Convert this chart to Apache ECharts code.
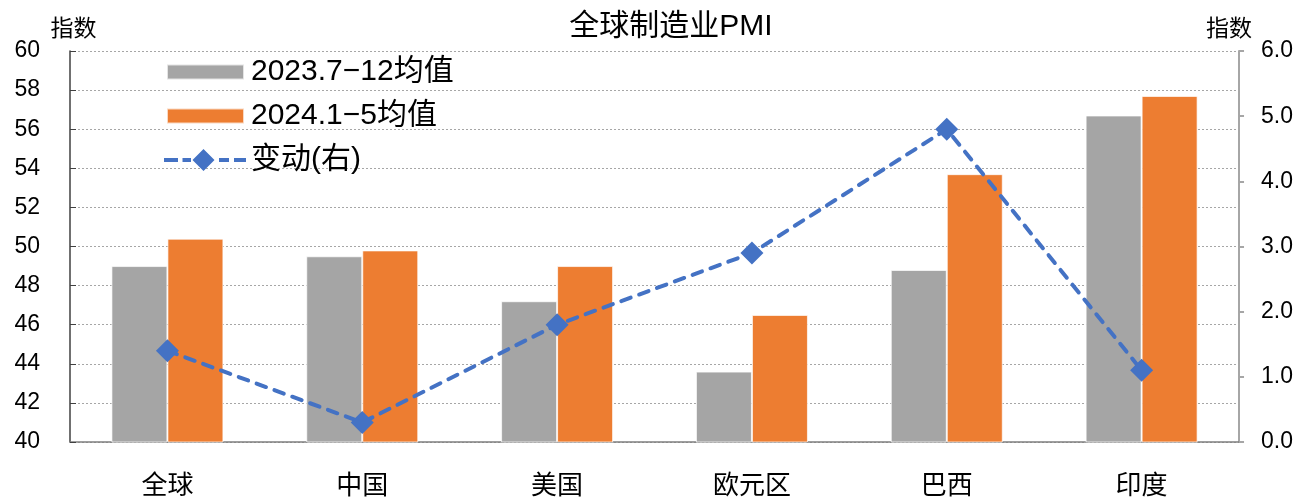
<!DOCTYPE html>
<html>
<head>
<meta charset="utf-8">
<script src="https://cdn.jsdelivr.net/npm/echarts@6/dist/echarts.min.js"></script>
<style>
  html, body { margin: 0; padding: 0; background: #fff; }
  #chart { width: 1296px; height: 500px; }
</style>
</head>
<body>
<div id="chart"></div>
<script>
// 全球制造业PMI：两期均值（左轴）与变动（右轴）
const categories = ['全球', '中国', '美国', '欧元区', '巴西', '印度'];
const avg2023H2 = [49.0, 49.5, 47.2, 43.6, 48.8, 56.7];
const avg2024 = [50.4, 49.8, 49.0, 46.5, 53.7, 57.7];
const change = [1.4, 0.3, 1.8, 2.9, 4.8, 1.1];
const leftTicks = { min: 40, max: 60, interval: 2 };
const rightTicks = { min: 0, max: 6, interval: 1 };
const seriesNames = ['2023.7−12均值', '2024.1−5均值', '变动(右)'];

const FONT = '"Liberation Sans", "Noto Sans CJK SC", sans-serif';

// Legend icons: a flat swatch for the bars, a dashed line with a diamond for the line.
// The leading move-tos pin every icon to the same 82×22 box.
const ICON_BAR = 'path://M0,0M82,22M3,3.5h77v15h-77z';
const ICON_LINE = 'path://M0,9h14v4h-14z M18.5,9h8.5v4h-8.5z M39.5,0L50.5,11L39.5,22L28.5,11z M55,9h10v4h-10z M70,9h12v4h-12z';

const chart = echarts.init(document.getElementById('chart'), null, { renderer: 'canvas' });

chart.setOption({
  animation: false,
  textStyle: { fontFamily: FONT, color: '#000' },
  title: {
    text: '全球制造业PMI',
    left: 666, top: 7,
    textAlign: 'center',
    textStyle: { fontFamily: FONT, fontSize: 30, fontWeight: 'normal', color: '#000' }
  },
  legend: {
    orient: 'vertical',
    left: 163, top: 57,
    padding: 0,
    itemWidth: 82, itemHeight: 22,
    itemGap: 14,
    textStyle: { fontFamily: FONT, fontSize: 30, color: '#000' },
    data: [
      { name: seriesNames[0], icon: ICON_BAR },
      { name: seriesNames[1], icon: ICON_BAR },
      { name: seriesNames[2], icon: ICON_LINE }
    ]
  },
  grid: { left: 70, right: 55, top: 51, bottom: 57 },
  xAxis: {
    type: 'category',
    data: categories,
    axisLine: { lineStyle: { color: '#7f7f7f', width: 1.5 } },
    axisTick: { inside: true, length: 9, lineStyle: { color: '#404040' } },
    axisLabel: { fontSize: 26, color: '#000', margin: 32 }
  },
  yAxis: [
    {
      type: 'value',
      min: leftTicks.min, max: leftTicks.max, interval: leftTicks.interval,
      name: '指数',
      nameLocation: 'end',
      nameGap: 10,
      nameTextStyle: { fontSize: 23, color: '#000', align: 'center', padding: [0, 0, 0, 7] },
      axisLine: { show: true, lineStyle: { color: '#404040', width: 1.5 } },
      axisTick: { show: true, inside: true, length: 6, lineStyle: { color: '#404040' } },
      axisLabel: { fontSize: 23, color: '#000', margin: 30 },
      splitLine: { show: true, lineStyle: { color: '#a6a6a6', type: [2, 2], width: 1 } }
    },
    {
      type: 'value',
      position: 'right',
      min: rightTicks.min, max: rightTicks.max, interval: rightTicks.interval,
      name: '指数',
      nameLocation: 'end',
      nameGap: 10,
      nameTextStyle: { fontSize: 23, color: '#000', align: 'center', padding: [0, 20, 0, 0] },
      axisLine: { show: true, lineStyle: { color: '#a6a6a6', width: 2 } },
      axisTick: { show: true, inside: false, length: 5, lineStyle: { color: '#a6a6a6', width: 2 } },
      axisLabel: { fontSize: 23, color: '#000', margin: 22, formatter: v => v.toFixed(1) },
      splitLine: { show: false }
    }
  ],
  series: [
    {
      name: seriesNames[0],
      type: 'bar',
      yAxisIndex: 0,
      data: avg2023H2,
      barWidth: 56,
      barGap: '0%',
      itemStyle: { color: '#a5a5a5', borderColor: 'rgba(255,255,255,0.7)', borderWidth: 1 }
    },
    {
      name: seriesNames[1],
      type: 'bar',
      yAxisIndex: 0,
      data: avg2024,
      barWidth: 56,
      barGap: '0%',
      itemStyle: { color: '#ed7d31', borderColor: 'rgba(255,255,255,0.7)', borderWidth: 1 }
    },
    {
      name: seriesNames[2],
      type: 'line',
      yAxisIndex: 1,
      data: change,
      symbol: 'diamond',
      symbolSize: 23,
      lineStyle: { color: '#4472c4', width: 4, type: [10, 9], cap: 'round' },
      itemStyle: { color: '#4472c4' },
      z: 5
    }
  ]
});
</script>
</body>
</html>
